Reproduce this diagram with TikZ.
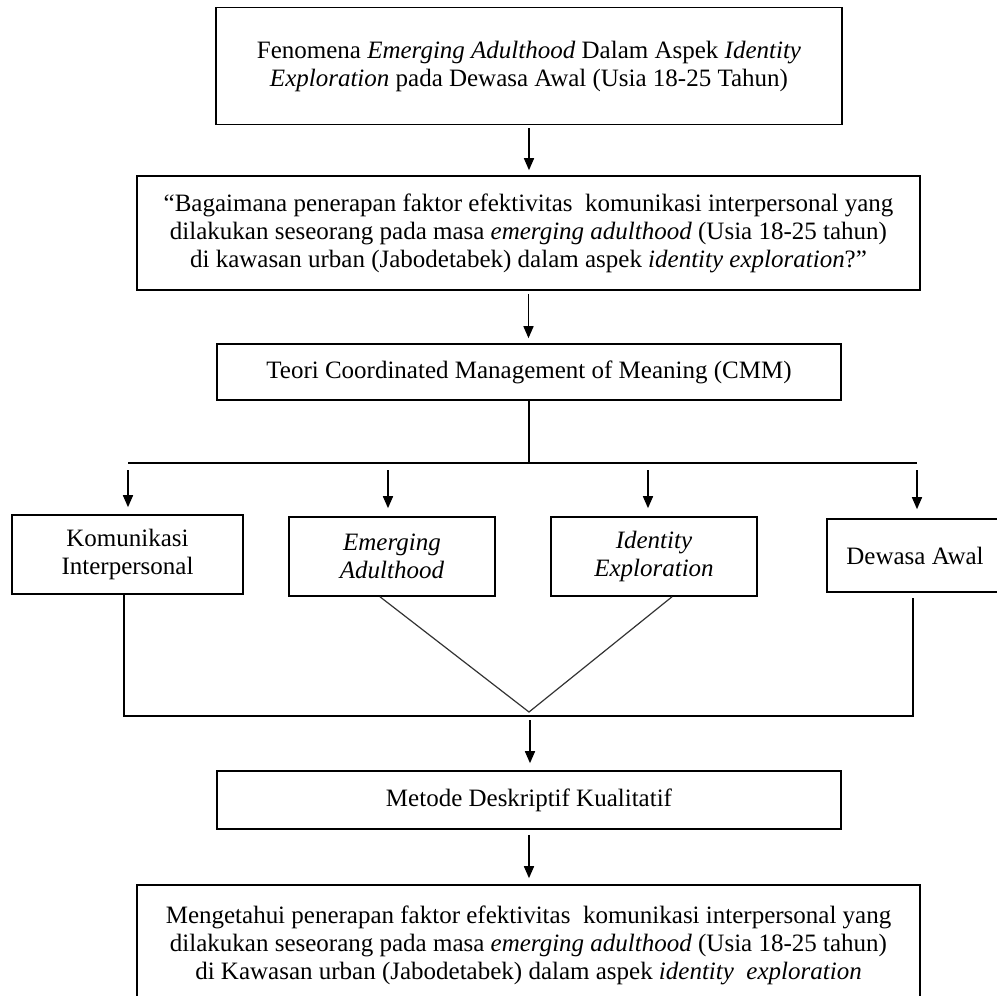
\documentclass[tikz,border=0pt]{standalone}
\usepackage{fontspec}
\setmainfont{Liberation Serif}
\usetikzlibrary{arrows.meta}
\begin{document}
\begin{tikzpicture}[x=1pt,y=-1pt,
  box/.style={draw, line width=1.6pt, inner sep=0pt, align=center,
    font=\fontsize{25}{28}\selectfont},
  arr/.style={-{Triangle[width=10pt,length=12pt]}, line width=1.5pt},
  ln/.style={line width=1.5pt},
  vln/.style={line width=1.2pt, draw=black!80}]
\useasboundingbox (0,0) rectangle (997,996);

\node[box, minimum width=626pt, minimum height=117pt] (b1) at (529,66)
  {Fenomena \emph{Emerging Adulthood} Dalam Aspek \emph{Identity}\\
   \emph{Exploration} pada Dewasa Awal (Usia 18-25 Tahun)};

\node[box, minimum width=783pt, minimum height=114pt] (b2) at (528.5,233)
  {“Bagaimana penerapan faktor efektivitas\ \ komunikasi interpersonal yang\\
   dilakukan seseorang pada masa \emph{emerging adulthood} (Usia 18-25 tahun)\\
   di kawasan urban (Jabodetabek) dalam aspek \emph{identity exploration}?”};

\node[box, minimum width=624pt, minimum height=56pt] (b3) at (529,372)
  {Teori Coordinated Management of Meaning (CMM)};

\node[box, minimum width=231pt, minimum height=79pt] (k) at (127.5,554.5)
  {Komunikasi\\Interpersonal};
\node[box, minimum width=206pt, minimum height=79pt] (e) at (392,556.5)
  {\emph{Emerging}\\\emph{Adulthood}};
\node[box, minimum width=206pt, minimum height=79pt] (i) at (654,556.5)
  {\emph{Identity}\\\emph{Exploration}};
\node[box, minimum width=176pt, minimum height=73pt] (d) at (915,555.5)
  {Dewasa Awal};

\node[box, minimum width=624pt, minimum height=58pt] (b4) at (529,800)
  {Metode Deskriptif Kualitatif};

\node[box, minimum width=783pt, minimum height=120pt] (b5) at (528.5,945)
  {Mengetahui penerapan faktor efektivitas\ \ komunikasi interpersonal yang\\
   dilakukan seseorang pada masa \emph{emerging adulthood} (Usia 18-25 tahun)\\
   di Kawasan urban (Jabodetabek) dalam aspek \emph{identity\ \ exploration}};

% top chain
\draw[arr, shorten <=3pt, shorten >=5pt] (b1.south) -- (b1.south |- b2.north);
\draw[arr, shorten <=3pt, shorten >=5pt] (b2.south) -- (b2.south |- b3.north);

% distribution line
\coordinate (tm) at (529,463);
\coordinate (tl) at (128,463);
\coordinate (tr) at (917,463);
\draw[ln] (b3.south) -- (tm);
\draw[ln] (tl) -- (tr);
\coordinate (a2) at (388,463);
\coordinate (a3) at (648,463);
\draw[arr, shorten <=7pt, shorten >=7pt] (tl) -- (tl |- k.north);
\draw[arr, shorten <=7pt, shorten >=8pt] (a2) -- (a2 |- e.north);
\draw[arr, shorten <=7pt, shorten >=8pt] (a3) -- (a3 |- i.north);
\draw[arr, shorten <=7pt, shorten >=9pt] (tr) -- (tr |- d.north);

% collecting line
\coordinate (bl) at (124,716);
\coordinate (br) at (913,716);
\coordinate (vm) at (529,712);
\draw[ln] (bl |- k.south) -- (bl) -- (br) -- ([yshift=-5pt]br |- d.south);
\draw[vln] ([xshift=-12pt]e.south) -- (vm) -- ([xshift=18pt]i.south);

% bottom chain
\coordinate (m) at (530,716);
\draw[arr, shorten <=4pt, shorten >=7pt] (m) -- (m |- b4.north);
\draw[arr, shorten <=5pt, shorten >=6pt] (b4.south) -- (b4.south |- b5.north);
\end{tikzpicture}
\end{document}
